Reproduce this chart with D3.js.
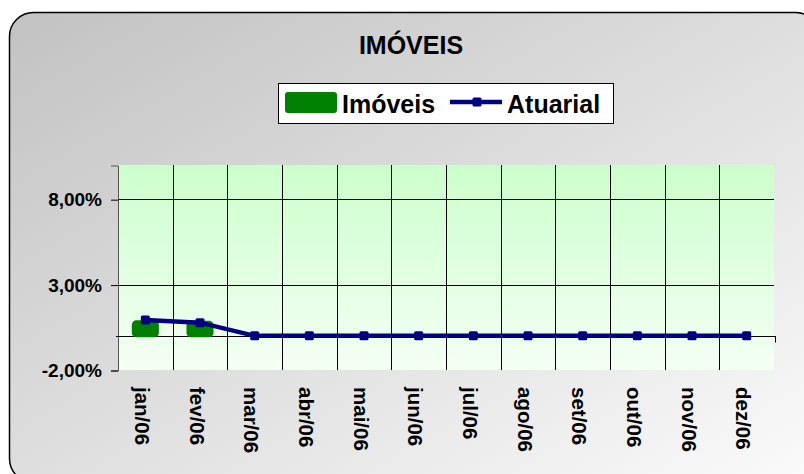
<!DOCTYPE html>
<html>
<head>
<meta charset="utf-8">
<script src="https://cdn.jsdelivr.net/npm/d3@7"></script>
<style>
  body { margin: 0; background: #fff; }
  svg { display: block; font-family: "Liberation Sans", Arial, sans-serif; }
</style>
</head>
<body>
<svg id="chart" width="804" height="474"></svg>
<script>
// data
const months = ["jan/06", "fev/06", "mar/06", "abr/06", "mai/06", "jun/06",
                "jul/06", "ago/06", "set/06", "out/06", "nov/06", "dez/06"];
const imoveis = [0.82, 0.80, null, null, null, null, null, null, null, null, null, null];
const atuarial = [0.92, 0.77, 0, 0, 0, 0, 0, 0, 0, 0, 0, 0];
const yTicks = [-2, 3, 8];

const svg = d3.select("#chart");
const defs = svg.append("defs");

// background gradient
const bg = defs.append("linearGradient").attr("id", "bgGrad")
  .attr("x1", "0%").attr("y1", "0%").attr("x2", "100%").attr("y2", "100%");
bg.append("stop").attr("offset", "0%").attr("stop-color", "#c2c2c2");
bg.append("stop").attr("offset", "100%").attr("stop-color", "#fbfbfb");

const pg = defs.append("linearGradient").attr("id", "plotGrad")
  .attr("x1", "0%").attr("y1", "0%").attr("x2", "0%").attr("y2", "100%");
pg.append("stop").attr("offset", "0%").attr("stop-color", "#ccffcc");
pg.append("stop").attr("offset", "100%").attr("stop-color", "#f4fff4");

svg.append("rect")
  .attr("x", 9.5).attr("y", 12.5)
  .attr("width", 810).attr("height", 470)
  .attr("rx", 24).attr("ry", 24)
  .attr("fill", "url(#bgGrad)")
  .attr("stroke", "#000").attr("stroke-width", 1.5);

// plot area
const pLeft = 118, pRight = 774, pTop = 165, pBottom = 370;

const x = d3.scaleBand().domain(months).range([pLeft, pRight]).padding(0);
const y = d3.scaleLinear().domain([-2, 10]).range([pBottom, pTop]);

svg.append("rect")
  .attr("x", pLeft).attr("y", pTop)
  .attr("width", pRight - pLeft).attr("height", pBottom - pTop)
  .attr("fill", "url(#plotGrad)");

// horizontal gridlines
svg.selectAll(".hgrid")
  .data(yTicks.filter(d => d > -2))
  .enter()
  .append("line")
  .attr("class", "hgrid")
  .attr("x1", pLeft).attr("x2", pRight)
  .attr("y1", d => Math.round(y(d)) + 0.5)
  .attr("y2", d => Math.round(y(d)) + 0.5)
  .attr("stroke", "#000").attr("stroke-width", 1);

// vertical gridlines at category boundaries
svg.selectAll(".vgrid")
  .data(months.slice(1))
  .enter()
  .append("line")
  .attr("class", "vgrid")
  .attr("x1", d => Math.round(x(d)) + 0.5)
  .attr("x2", d => Math.round(x(d)) + 0.5)
  .attr("y1", pTop).attr("y2", pBottom)
  .attr("stroke", "#000").attr("stroke-width", 1);

// y axis
const yAxis = d3.axisLeft(y)
  .tickValues(yTicks)
  .tickSize(7)
  .tickPadding(9)
  .tickFormat(d => d.toFixed(2).replace(".", ",") + "%");

const yG = svg.append("g")
  .attr("transform", `translate(${pLeft},0.5)`)
  .call(yAxis);
yG.select(".domain").attr("stroke", "#555");
yG.selectAll("text")
  .attr("font-size", 19).attr("font-weight", "bold").attr("fill", "#000")
  .attr("font-family", "Liberation Sans, Arial, sans-serif");

// zero (category) axis line
const y0 = Math.round(y(0)) + 0.5;
svg.append("line")
  .attr("x1", pLeft - 2).attr("x2", pRight + 2)
  .attr("y1", y0).attr("y2", y0)
  .attr("stroke", "#000").attr("stroke-width", 1);
svg.append("line")
  .attr("x1", pRight + 1.5).attr("x2", pRight + 1.5)
  .attr("y1", y0).attr("y2", y0 + 6)
  .attr("stroke", "#000").attr("stroke-width", 1);

// x labels
svg.selectAll(".xlabel")
  .data(months)
  .enter()
  .append("text")
  .attr("class", "xlabel")
  .attr("transform", d => `translate(${x(d) + x.bandwidth() / 2 - 3},387) rotate(90)`)
  .attr("dy", "0.35em")
  .attr("font-size", 20.5).attr("font-weight", "bold")
  .text(d => d);

// Imóveis bars
const barW = x.bandwidth() * 0.44;
svg.selectAll(".bar")
  .data(months.map((m, i) => ({ m, v: imoveis[i] })).filter(d => d.v != null))
  .enter()
  .append("rect")
  .attr("class", "bar")
  .attr("x", d => x(d.m) + (x.bandwidth() - barW) / 2)
  .attr("y", d => y(d.v))
  .attr("width", barW)
  .attr("height", d => y(0) - y(d.v))
  .attr("rx", 3)
  .attr("fill", "#008000")
  .attr("stroke", "#008000").attr("stroke-width", 3).attr("stroke-linejoin", "round");

// Atuarial line
const pts = months.map((m, i) => ({ m, v: atuarial[i] }));
svg.append("path")
  .datum(pts)
  .attr("fill", "none")
  .attr("stroke", "#000080").attr("stroke-width", 4.5)
  .attr("d", d3.line().x(d => x(d.m) + x.bandwidth() / 2).y(d => y(d.v)));

svg.selectAll(".mk")
  .data(pts)
  .enter()
  .append("rect")
  .attr("class", "mk")
  .attr("x", d => x(d.m) + x.bandwidth() / 2 - 4.5)
  .attr("y", d => y(d.v) - 4.5)
  .attr("width", 9).attr("height", 9).attr("rx", 1.5)
  .attr("fill", "#000080");

// title
svg.append("text")
  .attr("x", 411).attr("y", 54)
  .attr("text-anchor", "middle")
  .attr("font-size", 25).attr("font-weight", "bold")
  .text("IMÓVEIS");

// legend
const lg = svg.append("g");
lg.append("rect")
  .attr("x", 278.5).attr("y", 83.5).attr("width", 335).attr("height", 40)
  .attr("fill", "#fff").attr("stroke", "#000").attr("stroke-width", 1);
lg.append("rect")
  .attr("x", 285).attr("y", 92).attr("width", 52).attr("height", 21).attr("rx", 3)
  .attr("fill", "#008000");
lg.append("text").attr("x", 342).attr("y", 113)
  .attr("font-size", 25).attr("font-weight", "bold").text("Imóveis");
lg.append("line")
  .attr("x1", 450).attr("x2", 502).attr("y1", 102).attr("y2", 102)
  .attr("stroke", "#000080").attr("stroke-width", 4.5);
lg.append("rect")
  .attr("x", 472.5).attr("y", 97.5).attr("width", 9).attr("height", 9).attr("rx", 1.5)
  .attr("fill", "#000080");
lg.append("text").attr("x", 507).attr("y", 113)
  .attr("font-size", 25).attr("font-weight", "bold").text("Atuarial");
</script>
</body>
</html>
